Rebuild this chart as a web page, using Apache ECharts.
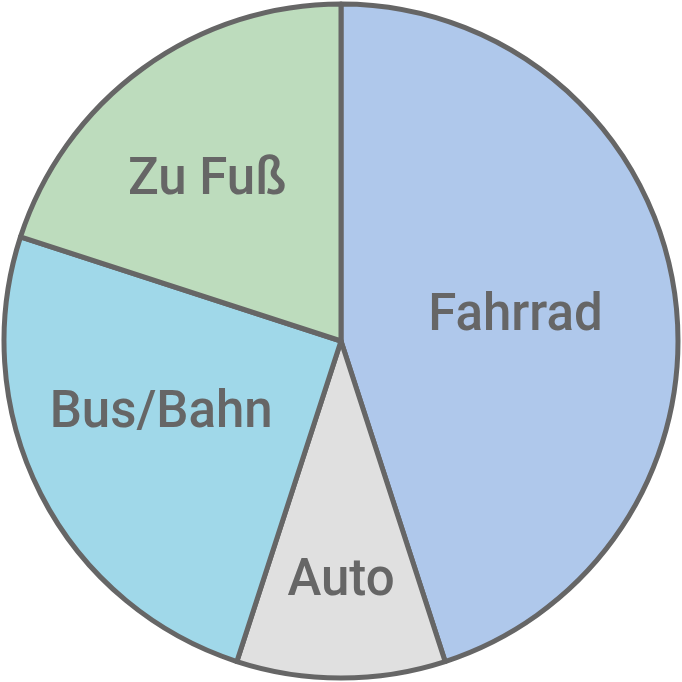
<!DOCTYPE html>
<html>
<head>
<meta charset="utf-8">
<script src="https://cdn.jsdelivr.net/npm/echarts@6/dist/echarts.min.js"></script>
<style>html,body{margin:0;padding:0;background:#fff}#c{width:682px;height:682px}</style>
</head>
<body>
<div id="c"></div>
<script>
var categories = ['Fahrrad', 'Auto', 'Bus/Bahn', 'Zu Fuß'];
var values = [45, 10, 25, 20];
var colors = ['#afc8eb', '#e0e0e0', '#a0d8e9', '#bddcbd'];
var labelNudge = [[5, 3], [0, 70], [-27, -5], [-33, -21]];

var chart = echarts.init(document.getElementById('c'), null, {renderer: 'canvas'});
chart.setOption({
  animation: false,
  series: [{
    type: 'pie',
    center: ['50%', '50%'],
    radius: [0, 337],
    startAngle: 90,
    clockwise: true,
    avoidLabelOverlap: false,
    data: categories.map(function (c, i) {
      return {name: c, value: values[i], itemStyle: {color: colors[i]}};
    }),
    itemStyle: {borderColor: '#666666', borderWidth: 5},
    label: {
      show: true,
      position: 'inside',
      formatter: '{b}',
      color: '#666666',
      fontFamily: 'Roboto',
      fontWeight: 500,
      fontSize: 51
    },
    labelLine: {show: false},
    emphasis: {disabled: true},
    labelLayout: function (p) {
      var n = labelNudge[p.dataIndex];
      return {dx: n[0], dy: n[1]};
    }
  }]
});
</script>
</body>
</html>
